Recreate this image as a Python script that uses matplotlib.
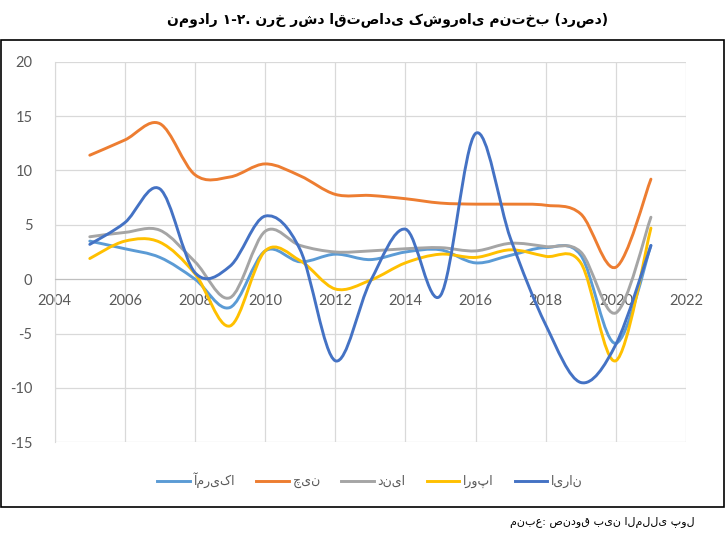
import matplotlib
matplotlib.use('Agg')
import matplotlib.pyplot as plt
from matplotlib.path import Path
from matplotlib.patches import PathPatch, Rectangle
from matplotlib.lines import Line2D

plt.rcParams['axes.unicode_minus'] = False

# داده‌ها (خوانده شده از نمودار)
years = list(range(2005, 2022))
iran = [3.2, 5.2, 8.3, 0.6, 1.2, 5.8, 2.7, -7.5, -0.2, 4.6, -1.5, 13.4, 3.7, -4.2, -9.5, -6.0, 3.1]
europe = [1.9, 3.5, 3.4, 0.5, -4.3, 2.6, 1.7, -0.9, -0.1, 1.5, 2.3, 2.0, 2.7, 2.1, 1.5, -7.5, 4.7]
world = [3.9, 4.3, 4.5, 1.6, -1.7, 4.4, 3.1, 2.5, 2.6, 2.8, 2.9, 2.6, 3.3, 3.0, 2.5, -3.1, 5.7]
china = [11.4, 12.8, 14.3, 9.6, 9.4, 10.6, 9.5, 7.8, 7.7, 7.4, 7.0, 6.9, 6.9, 6.8, 6.0, 1.1, 9.2]
usa = [3.5, 2.8, 2.0, 0.0, -2.6, 2.6, 1.6, 2.3, 1.8, 2.5, 2.7, 1.5, 2.2, 2.9, 2.2, -5.9, 3.1]

names = ['آمریکا', 'چین', 'دنیا', 'اروپا', 'ایران']
series = [usa, china, world, europe, iran]
colors = ['#5B9BD5', '#ED7D31', '#A5A5A5', '#FFC000', '#4472C4']

title = 'نمودار ۱-۲. نرخ رشد اقتصادی کشورهای منتخب (درصد)'
source = 'منبع: صندوق بین المللی پول'


def smooth_path(xs, ys):
    # منحنی هموار شبیه اکسل (Catmull-Rom به صورت بزیه)
    pts = list(zip(xs, ys))
    n = len(pts)
    verts = [pts[0]]
    codes = [Path.MOVETO]
    for i in range(n - 1):
        p0 = pts[i - 1] if i > 0 else pts[i]
        p1 = pts[i]
        p2 = pts[i + 1]
        p3 = pts[i + 2] if i + 2 < n else pts[i + 1]
        c1 = (p1[0] + (p2[0] - p0[0]) / 6, p1[1] + (p2[1] - p0[1]) / 6)
        c2 = (p2[0] - (p3[0] - p1[0]) / 6, p2[1] - (p3[1] - p1[1]) / 6)
        verts += [c1, c2, p2]
        codes += [Path.CURVE4] * 3
    return Path(verts, codes)


fig = plt.figure(figsize=(7.26, 5.4), dpi=100)
ax = fig.add_axes([54.7 / 726, 1 - 442.3 / 540, (686 - 54.7) / 726, (442.3 - 61.7) / 540])

for vals, c in zip(series, colors):
    ax.add_patch(PathPatch(smooth_path(years, vals), fill=False, edgecolor=c,
                           lw=2.1, capstyle='round', joinstyle='round', zorder=3))

ax.set_xlim(2004, 2022)
ax.set_ylim(-15, 20)
ax.set_xticks(range(2004, 2023, 2))
ax.set_yticks(range(-15, 21, 5))
ax.grid(True, color='#D9D9D9', lw=0.9)
ax.set_axisbelow(True)
for s in ['top', 'right']:
    ax.spines[s].set_visible(False)
ax.spines['left'].set_color('#D9D9D9')
ax.spines['bottom'].set_position(('data', 0))
ax.spines['bottom'].set_color('#BFBFBF')
ax.tick_params(length=0, labelsize=10.5, labelcolor='#595959')
ax.tick_params(axis='x', pad=11)
ax.tick_params(axis='y', pad=16)
for lab in ax.get_xticklabels() + ax.get_yticklabels():
    lab.set_family('Lato')

handles = [Line2D([], [], color=c, lw=2.1) for c in colors]
fig.legend(handles, names, loc='center', ncol=5,
           bbox_to_anchor=(370 / 726, 1 - 481 / 540), frameon=False,
           handlelength=2.6, columnspacing=1.7, handletextpad=0.3,
           prop={'family': 'DejaVu Sans', 'size': 9}, labelcolor='#595959')

fig.text(388 / 726, 1 - 20 / 540, title, ha='center', va='center',
         fontsize=10, fontweight='bold', family='DejaVu Sans')
fig.text(695 / 726, 1 - 523 / 540, source, ha='right', va='center',
         fontsize=8, family='DejaVu Sans')

fig.patches.append(Rectangle((1 / 726, 1 - 507 / 540), 723 / 726, 467 / 540,
                             transform=fig.transFigure, fill=False,
                             edgecolor='black', lw=1.2))

fig.savefig('out.png', dpi=100)
